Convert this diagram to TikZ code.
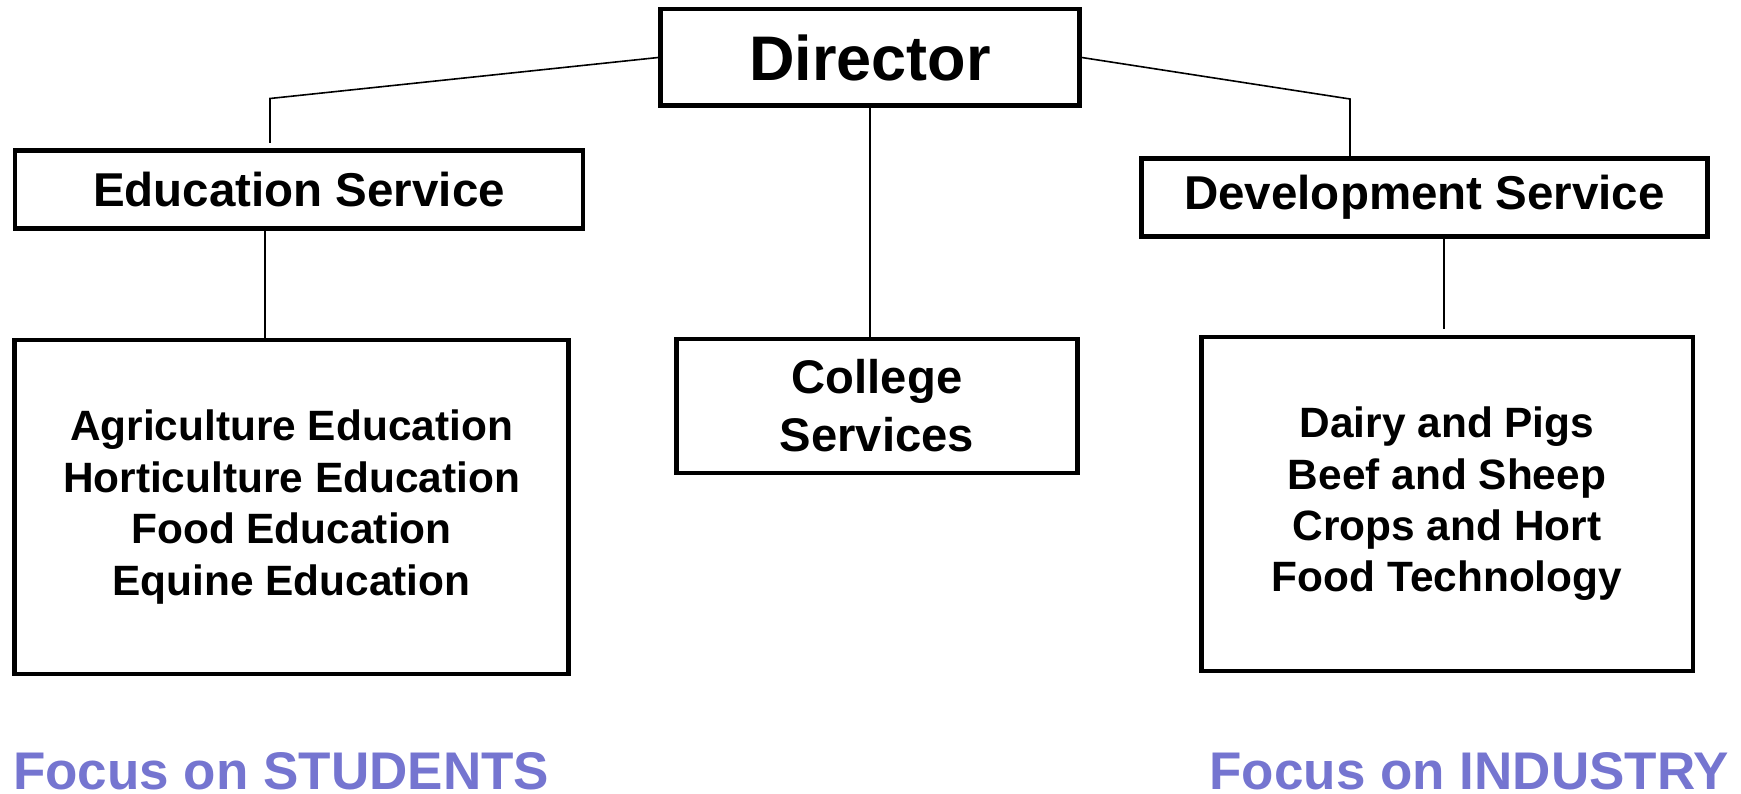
\documentclass[tikz,border=0pt]{standalone}
\usepackage{fontspec}
\setmainfont{Liberation Sans}
\definecolor{focuscol}{RGB}{117,117,208}
\begin{document}
\begin{tikzpicture}[x=1pt,y=-1pt,
  box/.style={draw=black,line width=4.5pt,rectangle,inner sep=0pt,align=center,font=\bfseries},
  conn/.style={draw=black,line width=1.6pt},
  focus/.style={inner sep=0pt,text depth=0pt,text=focuscol,font=\fontsize{53}{60}\selectfont\bfseries}]
\useasboundingbox (0,0) rectangle (1741,794);
\node[box,minimum width=419pt,minimum height=96.5pt,font=\fontsize{63}{70}\selectfont\bfseries] (dir) at (870,57.5) {Director};
\node[box,minimum width=568pt,minimum height=78pt,font=\fontsize{47.5}{58}\selectfont\bfseries] (edu) at (299,189.5) {Education Service};
\node[box,minimum width=566pt,minimum height=78pt,font=\fontsize{47.5}{58}\selectfont\bfseries] (dev) at (1424.5,197.5) {Development Service};
\node[box,minimum width=401pt,minimum height=134pt,font=\fontsize{47.2}{58}\selectfont\bfseries] (col) at (877,406) {College\\Services};
\node[box,minimum width=554pt,minimum height=333.5pt,font=\fontsize{42.4}{51.4}\selectfont\bfseries] (edulist) at (291.5,507) {Agriculture Education\\Horticulture Education\\Food Education\\Equine Education};
\node[box,minimum width=491.5pt,minimum height=333.5pt,font=\fontsize{42.4}{51.4}\selectfont\bfseries] (devlist) at (1447,504) {Dairy and Pigs\\Beef and Sheep\\Crops and Hort\\Food Technology};
\node[focus,anchor=base west] (fs) at (13,789) {Focus on STUDENTS};
\node[focus,anchor=base east] (fi) at (1729,789) {Focus on INDUSTRY};
% connectors
\coordinate (lk) at (270,98.5);
\coordinate (le) at (270,143);
\coordinate (rk) at (1350,99);
\coordinate (re) at (1350,156);
\coordinate (ledu) at (265,231);
\coordinate (ledl) at (265,338);
\coordinate (rdev) at (1444,239);
\coordinate (rdel) at (1444,329);
\draw[conn] (dir.west) -- (lk) -- (le);
\draw[conn] (dir.east) -- (rk) -- (re);
\draw[conn] (dir.south -| 870,0) -- (870,337);
\draw[conn] (ledu) -- (ledl);
\draw[conn] (rdev) -- (rdel);
\end{tikzpicture}
\end{document}
